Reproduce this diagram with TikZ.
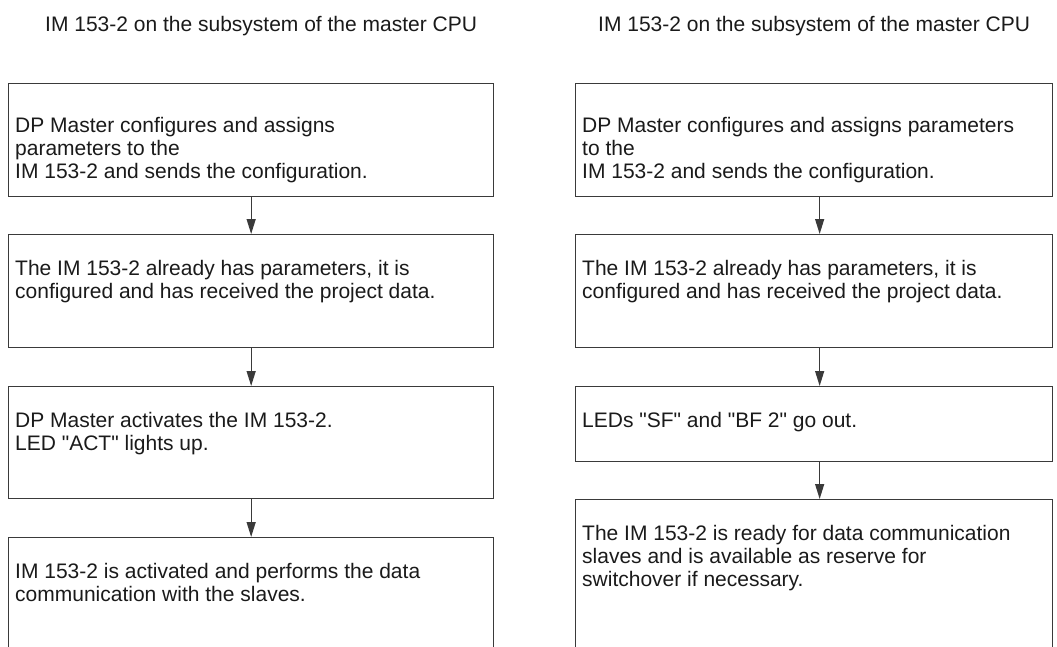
\documentclass[tikz,border=0pt]{standalone}
\usepackage{fontspec}
\setmainfont{Liberation Sans}
\usetikzlibrary{arrows.meta,calc}
\definecolor{linec}{HTML}{3A3A3A}
\definecolor{textc}{HTML}{1A1A1A}
\newcommand{\fl}{\rule{0pt}{16pt}}
\newcommand{\qq}{\textquotedbl}
\begin{document}
\begin{tikzpicture}[x=1pt,y=-1pt,
  stepbox/.style={draw=linec, line width=1.3pt, anchor=north west, inner sep=0pt, rectangle},
  boxL/.style={stepbox, minimum width=485pt, minimum height=#1},
  boxR/.style={stepbox, minimum width=477pt, minimum height=#1},
  txt/.style={anchor=north west, inner sep=0pt, align=left, text=textc, font=\fontsize{21}{23}\selectfont},
  ttl/.style={anchor=base west, inner sep=0pt, text=textc, font=\fontsize{21}{23}\selectfont},
  arr/.style={draw=linec, line width=1.3pt, -{Triangle[length=15pt,width=9pt]}}]
\useasboundingbox (0,0) rectangle (1057,646);
\clip (0,0) rectangle (1057,646);
% titles
\node[ttl] (tL) at (45,31) {IM 153-2 on the subsystem of the master CPU};
\node[ttl] (tR) at (598,31) {IM 153-2 on the subsystem of the master CPU};
% left column
\node[boxL=113pt] (L1) at (8,83) {};
\node[boxL=113pt] (L2) at (8,234) {};
\node[boxL=112pt] (L3) at (8,386) {};
\node[boxL=140pt] (L4) at (8,537) {};
\node[txt] (L1t) at (15,116) {\fl DP Master configures and assigns\\parameters to the\\IM 153-2 and sends the configuration.};
\node[txt] (L2t) at (15,259) {\fl The IM 153-2 already has parameters, it is\\configured and has received the project data.};
\node[txt] (L3t) at (15,411) {\fl DP Master activates the IM 153-2.\\LED \qq ACT\qq{} lights up.};
\node[txt] (L4t) at (15,562) {\fl IM 153-2 is activated and performs the data\\communication with the slaves.};
% right column
\node[boxR=113pt] (R1) at (575,83) {};
\node[boxR=113pt] (R2) at (575,234) {};
\node[boxR=75pt] (R3) at (575,386) {};
\node[boxR=160pt] (R4) at (575,499) {};
\node[txt] (R1t) at (582,116) {\fl DP Master configures and assigns parameters\\to the\\IM 153-2 and sends the configuration.};
\node[txt] (R2t) at (582,259) {\fl The IM 153-2 already has parameters, it is\\configured and has received the project data.};
\node[txt] (R3t) at (582,411) {\fl LEDs \qq SF\qq{} and \qq BF 2\qq{} go out.};
\node[txt] (R4t) at (582,524) {\fl The IM 153-2 is ready for data communication\\slaves and is available as reserve for\\switchover if necessary.};
% arrows
\draw[arr] (L1.south) -- (L2.north);
\draw[arr] (L2.south) -- (L3.north);
\draw[arr] (L3.south) -- (L4.north);
\draw[arr] ([xshift=5.5pt]R1.south) -- ([xshift=5.5pt]R2.north);
\draw[arr] ([xshift=5.5pt]R2.south) -- ([xshift=5.5pt]R3.north);
\draw[arr] ([xshift=5.5pt]R3.south) -- ([xshift=5.5pt]R4.north);
\end{tikzpicture}
\end{document}
